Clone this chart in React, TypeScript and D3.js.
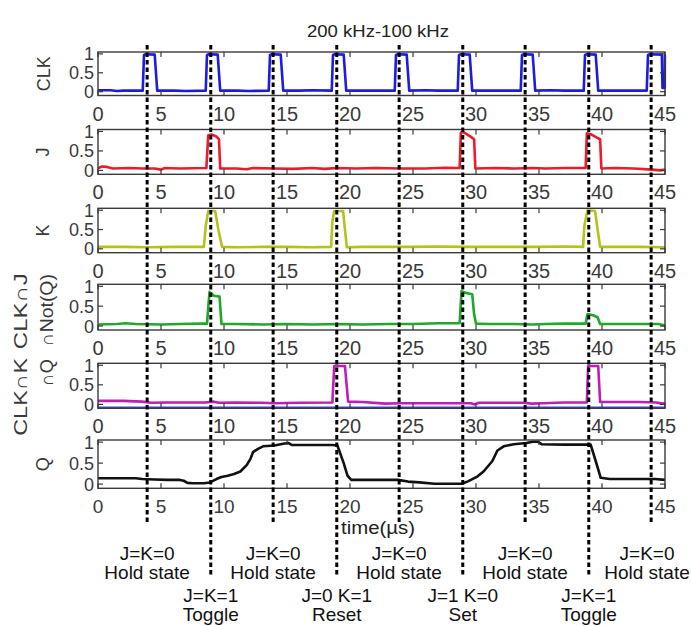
import React from "react";
import * as d3 from "d3";

type Pt = [number, number];

// Axis ticks
const timeTicks = [0, 5, 10, 15, 20, 25, 30, 35, 40, 45];
const levelTicks = [0, 0.5, 1];
const levelTickLabels = ["0", "0.5", "1"];

// Measured waveforms: [time in µs, normalised level]
const clkTrace: Pt[] = [
  [0, 0.04], [1, 0.04], [1.5, 0.02], [2, 0.03], [3.55, 0.03], [3.65, 0.97], [3.8, 0.99], [4.5, 0.98], [4.7, 0.03],
  [6, 0.03], [7, 0.02], [8.55, 0.03], [8.65, 0.97], [8.8, 0.99], [9.5, 0.98], [9.7, 0.03],
  [11, 0.03], [12, 0.02], [13.55, 0.03], [13.65, 0.97], [13.8, 0.99], [14.5, 0.98], [14.7, 0.03],
  [16, 0.03], [17, 0.04], [18.55, 0.03], [18.65, 0.97], [18.8, 0.99], [19.5, 0.98], [19.7, 0.03],
  [21, 0.03], [23.55, 0.03], [23.65, 0.97], [23.8, 0.99], [24.5, 0.98], [24.7, 0.03],
  [26, 0.04], [27, 0.03], [28.55, 0.03], [28.65, 0.97], [28.8, 0.99], [29.5, 0.98], [29.7, 0.03],
  [31, 0.03], [33.55, 0.03], [33.65, 0.97], [33.8, 0.99], [34.5, 0.98], [34.7, 0.03],
  [36, 0.04], [37, 0.03], [38.55, 0.03], [38.65, 0.97], [38.8, 0.99], [39.5, 0.98], [39.7, 0.03],
  [41, 0.03], [43.55, 0.03], [43.65, 0.97], [43.8, 0.99], [44.75, 0.98], [44.8, 0.1], [44.98, 0.1], [44.99, 0.98],
];

const jTrace: Pt[] = [
  [0, 0.05], [0.3, 0.1], [0.7, 0.09], [1.2, 0.05], [2.5, 0.06], [3.5, 0.05], [4.5, 0.05], [5.0, 0.02], [5.3, 0.06],
  [6.5, 0.05], [8.6, 0.06], [8.75, 0.9], [9.0, 0.92], [9.4, 0.87], [9.6, 0.8], [9.7, 0.05],
  [11, 0.05], [11.8, 0.03], [12.3, 0.06], [14, 0.05], [15.5, 0.04], [17, 0.06], [18, 0.04], [19, 0.06],
  [20.5, 0.05], [22, 0.06], [24, 0.05], [26, 0.05], [27.5, 0.07], [28.7, 0.06], [28.8, 0.97], [29.0, 0.98],
  [29.6, 0.86], [29.85, 0.8], [29.95, 0.05], [31.5, 0.06], [33, 0.05], [34.5, 0.06], [35.5, 0.05], [37, 0.06],
  [38.7, 0.06], [38.8, 0.95], [39.1, 0.93], [39.6, 0.84], [39.85, 0.8], [39.95, 0.05], [41, 0.06], [42.5, 0.05],
  [44.0, 0.02], [44.6, 0.0], [45, 0.02],
];

const kTrace: Pt[] = [
  [0, 0.05], [2, 0.05], [4, 0.04], [6, 0.05], [8.4, 0.05], [8.55, 0.6], [8.75, 0.98], [9.3, 0.98], [9.55, 0.5],
  [9.85, 0.05], [11, 0.04], [13, 0.05], [15, 0.05], [17, 0.04], [18.5, 0.05], [18.6, 0.7], [18.75, 0.98],
  [19.45, 0.98], [19.6, 0.5], [19.75, 0.04], [21, 0.05], [23, 0.05], [25, 0.05], [27, 0.06], [29, 0.05],
  [31, 0.05], [33, 0.05], [35, 0.05], [37, 0.06], [38.5, 0.05], [38.6, 0.6], [38.85, 1.0], [39.45, 0.98],
  [39.65, 0.5], [39.85, 0.05], [41, 0.05], [43, 0.05], [45, 0.04],
];

const notQTrace: Pt[] = [
  [0, 0.04], [1.5, 0.05], [2.2, 0.07], [3, 0.05], [5, 0.04], [6.5, 0.05], [8.2, 0.06], [8.65, 0.06],
  [8.85, 0.86], [9.2, 0.76], [9.65, 0.74], [9.8, 0.05], [11, 0.05], [13, 0.04], [15, 0.05], [17, 0.04],
  [19, 0.05], [21, 0.04], [23, 0.05], [25, 0.05], [27, 0.07], [28.7, 0.07], [28.85, 0.88], [29.1, 0.84],
  [29.7, 0.8], [29.85, 0.3], [30, 0.06], [31, 0.05], [33, 0.05], [34.5, 0.04], [35.5, 0.05], [37, 0.06],
  [38.7, 0.06], [38.85, 0.3], [39.3, 0.27], [39.65, 0.22], [39.85, 0.05], [41, 0.05], [43, 0.05],
  [44.5, 0.05], [45, 0.01],
];

const nQTrace: Pt[] = [
  [0, 0.09], [2, 0.09], [3.5, 0.07], [4.2, 0.04], [5.5, 0.05], [7, 0.05], [8.5, 0.05], [9.2, 0.07],
  [9.6, 0.04], [11, 0.05], [13, 0.04], [14, 0.03], [16, 0.04], [18.6, 0.05], [18.75, 0.98], [19.0, 0.98],
  [19.6, 0.98], [19.85, 0.07], [21, 0.06], [22.8, 0.02], [24, 0.03], [26, 0.03], [28, 0.03], [29.6, 0.03],
  [29.9, 0.0], [30.2, 0.04], [32, 0.04], [33.8, 0.04], [34.4, 0.02], [35.3, 0.03], [37, 0.05], [38.8, 0.05],
  [38.9, 0.98], [39.7, 0.98], [39.85, 0.06], [41, 0.06], [43, 0.06], [44.3, 0.05], [44.8, 0.02], [45, 0.03],
];

const qTrace: Pt[] = [
  [0, 0.14], [3, 0.14], [3.5, 0.12], [4.5, 0.11], [5.5, 0.1], [6.5, 0.1], [6.8, 0.08], [7.1, 0.03],
  [7.5, 0.02], [8.4, 0.02], [8.9, 0.04], [9.4, 0.12], [9.8, 0.17], [10.3, 0.2], [10.8, 0.24], [11.3, 0.3],
  [11.8, 0.45], [12.1, 0.6], [12.3, 0.76], [12.7, 0.84], [13.1, 0.9], [14, 0.92], [14.7, 0.96], [15.1, 0.98],
  [15.4, 0.93], [17, 0.93], [18.6, 0.93], [19.0, 0.92], [19.5, 0.5], [19.8, 0.2], [20.1, 0.1], [22, 0.1],
  [23.8, 0.1], [24.6, 0.06], [25.5, 0.04], [26.7, 0.01], [28.9, 0.01], [29.4, 0.07], [30.1, 0.18],
  [30.6, 0.3], [31.3, 0.55], [31.7, 0.8], [32.2, 0.9], [33, 0.95], [34, 0.98], [34.5, 1.01], [34.9, 1.01],
  [35.2, 0.95], [37, 0.94], [39.1, 0.94], [39.5, 0.55], [39.9, 0.15], [40.6, 0.12], [43, 0.12], [44.2, 0.12],
  [45, 0.1],
];

// Event markers and their annotations
const eventTimes = [3.9, 8.95, 13.9, 18.95, 23.9, 28.95, 33.9, 38.95, 43.9];
const holdTimes = [3.9, 13.9, 23.9, 33.9, 43.9];
const holdCondition = "J=K=0";
const holdName = "Hold state";
const transitionTimes = [8.95, 18.95, 28.95, 38.95];
const transitionConds = ["J=K=1", "J=0 K=1", "J=1 K=0", "J=K=1"];
const transitionNames = ["Toggle", "Reset", "Set", "Toggle"];

const titleText = "200 kHz-100 kHz";
const xAxisTitle = "time(\u00b5s)";

const FONT = "'Liberation Sans', Arial, Helvetica, sans-serif";
const FRAME = "#3a3a3a";
const TICK_TEXT = "#3a3a3a";

type YLabel = { text: string; dx: number; dy: number; len?: number };
type Panel = {
  trace: Pt[];
  color: string;
  top: number;
  bottom: number;
  labels: YLabel[];
  tickFont: number;
  baseline?: string;
};

const panels: Panel[] = [
  { trace: clkTrace, color: "#1c1ce0", top: 52, bottom: 95.5, labels: [{ text: "CLK", dx: 44, dy: 0 }], tickFont: 20 },
  { trace: jTrace, color: "#ec1b2a", top: 129.5, bottom: 174.3, labels: [{ text: "J", dx: 43, dy: 0 }], tickFont: 20 },
  { trace: kTrace, color: "#b6c21c", top: 208.3, bottom: 252.7, labels: [{ text: "K", dx: 43, dy: 0 }], tickFont: 20 },
  {
    trace: notQTrace, color: "#1fa82a", top: 284.3, bottom: 330,
    labels: [
      { text: "CLK\u2229J", dx: 21, dy: 4, len: 76 },
      { text: "\u2229Not(Q)", dx: 47, dy: 3, len: 72 },
    ],
    tickFont: 20,
  },
  {
    trace: nQTrace, color: "#c21cb8", top: 363.3, bottom: 408.3,
    labels: [
      { text: "CLK\u2229K", dx: 21, dy: 11, len: 78 },
      { text: "\u2229Q", dx: 47, dy: -13, len: 27 },
    ],
    tickFont: 20, baseline: "#3a4ad0",
  },
  { trace: qTrace, color: "#111111", top: 440, bottom: 488.3, labels: [{ text: "Q", dx: 43, dy: 0 }], tickFont: 19 },
];

const LEFT = 98;
const RIGHT = 665;

export default function App() {
  const x = d3.scaleLinear().domain([0, 45]).range([LEFT, RIGHT]);

  return (
    <svg
      width={691}
      height={626}
      viewBox="0 0 691 626"
      style={{ position: "absolute", left: 0, top: 0, background: "#fff" }}
      fontFamily={FONT}
    >
      <rect x={0} y={0} width={691} height={626} fill="#fff" />

      <text x={378} y={37} fontSize={17} textAnchor="middle" fill="#222" textLength={142} lengthAdjust="spacingAndGlyphs">
        {titleText}
      </text>

      {panels.map((p, i) => {
        const y = d3.scaleLinear().domain([-0.1, 1.05]).range([p.bottom, p.top]);
        const line = d3
          .line<Pt>()
          .x((d) => x(d[0]))
          .y((d) => y(d[1]));
        const mid = (p.top + p.bottom) / 2;
        return (
          <g key={i}>
            <rect x={LEFT} y={p.top} width={RIGHT - LEFT} height={p.bottom - p.top} fill="#fff" />
            {p.baseline && (
              <line x1={LEFT} x2={RIGHT} y1={p.bottom - 1} y2={p.bottom - 1} stroke={p.baseline} strokeWidth={1.5} />
            )}
            <path d={line(p.trace) || ""} fill="none" stroke={p.color} strokeWidth={2.6} strokeLinejoin="round" />
            <rect
              x={LEFT}
              y={p.top}
              width={RIGHT - LEFT}
              height={p.bottom - p.top}
              fill="none"
              stroke={FRAME}
              strokeWidth={1.4}
            />
            {timeTicks.map((t) => (
              <g key={t}>
                <line x1={x(t)} x2={x(t)} y1={p.top} y2={p.top + 5} stroke={FRAME} strokeWidth={1.2} />
                <line x1={x(t)} x2={x(t)} y1={p.bottom} y2={p.bottom - 5} stroke={FRAME} strokeWidth={1.2} />
                <text x={x(t)} y={p.bottom + 25} fontSize={p.tickFont} textAnchor="middle" fill={TICK_TEXT}>
                  {t}
                </text>
              </g>
            ))}
            {levelTicks.map((v, k) => (
              <g key={v}>
                <line x1={LEFT} x2={LEFT + 5} y1={y(v)} y2={y(v)} stroke={FRAME} strokeWidth={1.2} />
                <line x1={RIGHT} x2={RIGHT - 5} y1={y(v)} y2={y(v)} stroke={FRAME} strokeWidth={1.2} />
                <text x={LEFT - 4} y={y(v) + 6.5} fontSize={18} textAnchor="end" fill={TICK_TEXT}>
                  {levelTickLabels[k]}
                </text>
              </g>
            ))}
            {p.labels.map((l, k) => (
              <text
                key={k}
                transform={`translate(${l.dx},${mid + l.dy}) rotate(-90)`}
                fontSize={18}
                textAnchor="middle"
                dominantBaseline="central"
                fill={TICK_TEXT}
                {...(l.len ? { textLength: l.len, lengthAdjust: "spacingAndGlyphs" } : {})}
              >
                {l.text}
              </text>
            ))}
          </g>
        );
      })}

      <text x={378} y={534} fontSize={18} textAnchor="middle" fill="#222" textLength={74} lengthAdjust="spacingAndGlyphs">
        {xAxisTitle}
      </text>

      {eventTimes.map((t) => {
        const isHold = holdTimes.includes(t);
        return (
          <line
            key={t}
            x1={x(t)}
            x2={x(t)}
            y1={45}
            y2={isHold ? 525 : 577}
            stroke="#000"
            strokeWidth={3}
            strokeDasharray="4.5,3"
          />
        );
      })}

      {holdTimes.map((t) => {
        // keep the right-most annotation inside the frame
        const cx = Math.min(x(t), 647);
        return (
          <g key={t} fontSize={19} fill="#111" textAnchor="middle">
            <text x={cx} y={560}>{holdCondition}</text>
            <text x={cx} y={579}>{holdName}</text>
          </g>
        );
      })}
      {transitionTimes.map((t, i) => (
        <g key={t} fontSize={19} fill="#111" textAnchor="middle">
          <text x={x(t)} y={602}>{transitionConds[i]}</text>
          <text x={x(t)} y={621}>{transitionNames[i]}</text>
        </g>
      ))}
    </svg>
  );
}
